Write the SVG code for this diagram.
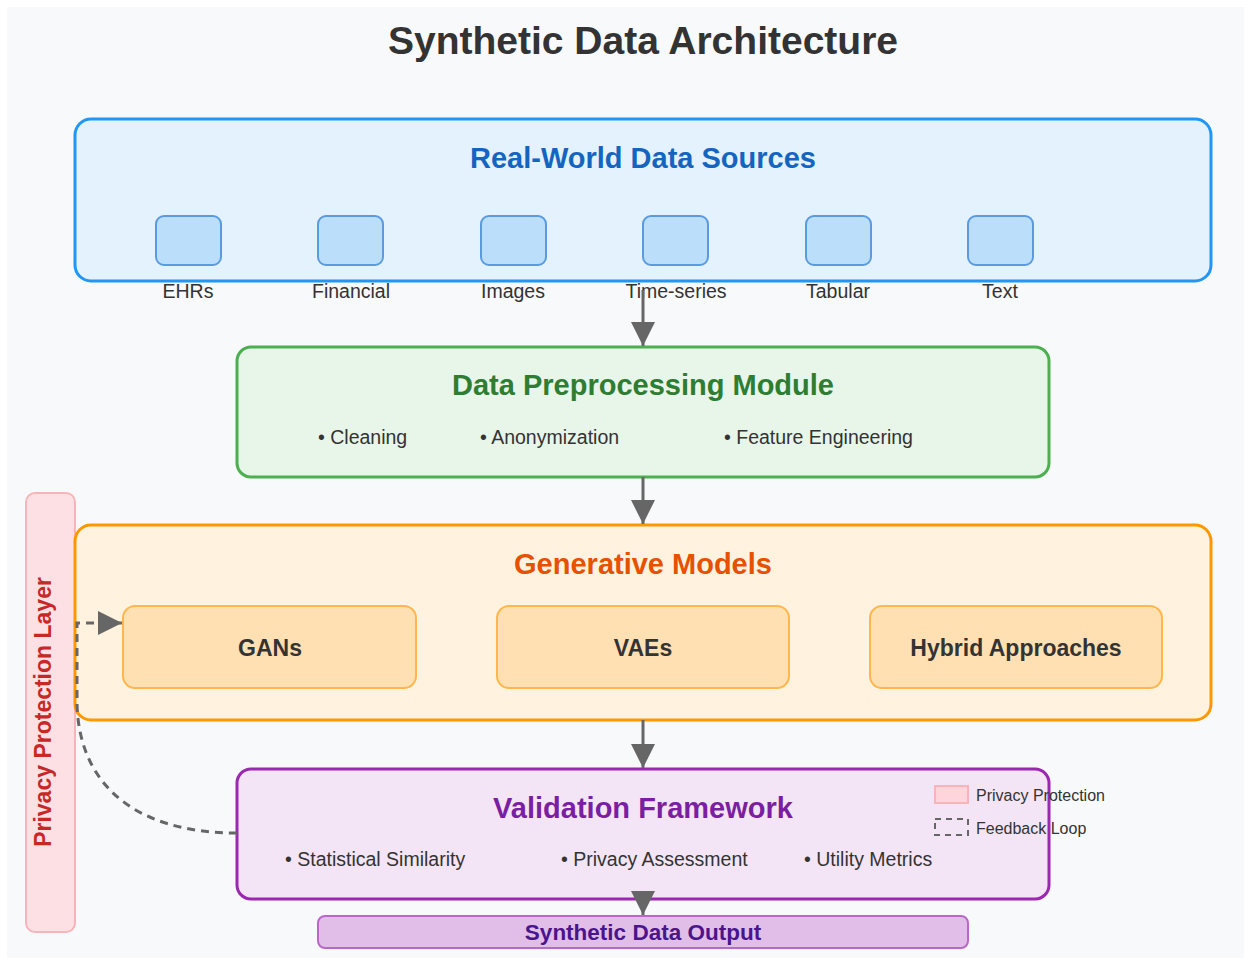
<svg xmlns="http://www.w3.org/2000/svg" width="1244" height="958" viewBox="0 0 1244 958">
  <defs>
    <marker id="arrow" viewBox="0 0 10 10" refX="10" refY="5" markerWidth="8" markerHeight="8" markerUnits="strokeWidth" orient="auto">
      <path d="M0,0 L10,5 L0,10 Z" fill="#666666"/>
    </marker>
    <style>
      text { font-family: "Liberation Sans", Arial, Helvetica, sans-serif; }
      .title { font-size: 39px; font-weight: bold; fill: #333333; text-anchor: middle; }
      .heading { font-size: 29px; font-weight: bold; text-anchor: middle; }
      .label { font-size: 19.5px; fill: #333333; }
      .center { text-anchor: middle; }
      .model { font-size: 23px; font-weight: bold; fill: #333333; text-anchor: middle; }
      .legend { font-size: 16px; fill: #333333; }
      .src { fill: #bbdefb; stroke: #5a9be0; stroke-width: 2; }
      .modelbox { fill: #ffe0b2; stroke: #ffb74d; stroke-width: 2; }
      .flow { stroke: #666666; stroke-width: 3; fill: none; }
      .dash { stroke: #666666; stroke-width: 3; fill: none; stroke-dasharray: 8 6; }
    </style>
  </defs>

  <!-- canvas -->
  <rect x="7" y="7" width="1237" height="951" fill="#f8f9fa"/>

  <text class="title" x="643" y="54">Synthetic Data Architecture</text>

  <!-- side privacy layer -->
  <g id="privacy-layer">
    <rect x="26" y="493" width="49" height="439" rx="9" fill="#fde0e4" stroke="#f9b4ba" stroke-width="2"/>
    <text transform="translate(51 712) rotate(-90)" text-anchor="middle" font-size="23" font-weight="bold" fill="#c62828">Privacy Protection Layer</text>
  </g>

  <!-- data sources -->
  <g id="data-sources">
    <rect x="75" y="119" width="1136" height="162" rx="16" fill="#e3f2fd" stroke="#2196f3" stroke-width="3"/>
    <text class="heading" x="643" y="168" fill="#1565c0">Real-World Data Sources</text>
    <rect class="src" x="156" y="216" width="65" height="49" rx="8"/>
    <rect class="src" x="318" y="216" width="65" height="49" rx="8"/>
    <rect class="src" x="481" y="216" width="65" height="49" rx="8"/>
    <rect class="src" x="643" y="216" width="65" height="49" rx="8"/>
    <rect class="src" x="806" y="216" width="65" height="49" rx="8"/>
    <rect class="src" x="968" y="216" width="65" height="49" rx="8"/>
    <text class="label center" x="188" y="298">EHRs</text>
    <text class="label center" x="351" y="298">Financial</text>
    <text class="label center" x="513" y="298">Images</text>
    <text class="label center" x="676" y="298">Time-series</text>
    <text class="label center" x="838" y="298">Tabular</text>
    <text class="label center" x="1000" y="298">Text</text>
  </g>

  <!-- preprocessing -->
  <g id="preprocessing">
    <rect x="237" y="347" width="812" height="130" rx="14" fill="#e8f5e9" stroke="#4caf50" stroke-width="3"/>
    <text class="heading" x="643" y="395" fill="#2e7d32">Data Preprocessing Module</text>
    <text class="label" x="318" y="444">• Cleaning</text>
    <text class="label" x="480" y="444">• Anonymization</text>
    <text class="label" x="724" y="444">• Feature Engineering</text>
  </g>

  <!-- generative models -->
  <g id="generative-models">
    <rect x="75" y="525" width="1136" height="195" rx="16" fill="#fff3e0" stroke="#ff9800" stroke-width="3"/>
    <text class="heading" x="643" y="574" fill="#e65100">Generative Models</text>
  </g>
  <g id="gans">
    <rect class="modelbox" x="123" y="606" width="293" height="82" rx="12"/>
    <text class="model" x="270" y="656">GANs</text>
  </g>
  <g id="vaes">
    <rect class="modelbox" x="497" y="606" width="292" height="82" rx="12"/>
    <text class="model" x="643" y="656">VAEs</text>
  </g>
  <g id="hybrid">
    <rect class="modelbox" x="870" y="606" width="292" height="82" rx="12"/>
    <text class="model" x="1016" y="656">Hybrid Approaches</text>
  </g>

  <!-- validation -->
  <g id="validation">
    <rect x="237" y="769" width="812" height="130" rx="14" fill="#f3e5f5" stroke="#9c27b0" stroke-width="3"/>
    <text class="heading" x="643" y="818" fill="#7b1fa2">Validation Framework</text>
    <text class="label" x="285" y="866">• Statistical Similarity</text>
    <text class="label" x="561" y="866">• Privacy Assessment</text>
    <text class="label" x="804" y="866">• Utility Metrics</text>
  </g>

  <!-- output -->
  <g id="output">
    <rect x="318" y="916" width="650" height="32" rx="7" fill="#e1bee7" stroke="#ba68c8" stroke-width="2"/>
    <text x="643" y="940" text-anchor="middle" font-size="22.5" font-weight="bold" fill="#4a148c">Synthetic Data Output</text>
  </g>

  <!-- connectors -->
  <g id="connectors">
    <line class="flow" x1="643" y1="290" x2="643" y2="346" marker-end="url(#arrow)"/>
    <line class="flow" x1="643" y1="477" x2="643" y2="524" marker-end="url(#arrow)"/>
    <line class="flow" x1="643" y1="720" x2="643" y2="768" marker-end="url(#arrow)"/>
    <line class="flow" x1="643" y1="893" x2="643" y2="915" marker-end="url(#arrow)"/>
    <path class="dash" d="M237,833 C130,833 77,780 77,700 L77,623 L122,623" marker-end="url(#arrow)"/>
  </g>

  <!-- legend -->
  <g id="legend">
    <rect x="935" y="786" width="33" height="17" fill="#fdd5da" stroke="#f9b4ba" stroke-width="2"/>
    <text class="legend" x="976" y="801">Privacy Protection</text>
    <rect x="935" y="819" width="33" height="16" fill="none" stroke="#666666" stroke-width="2" stroke-dasharray="6 5"/>
    <text class="legend" x="976" y="834">Feedback Loop</text>
  </g>
</svg>
